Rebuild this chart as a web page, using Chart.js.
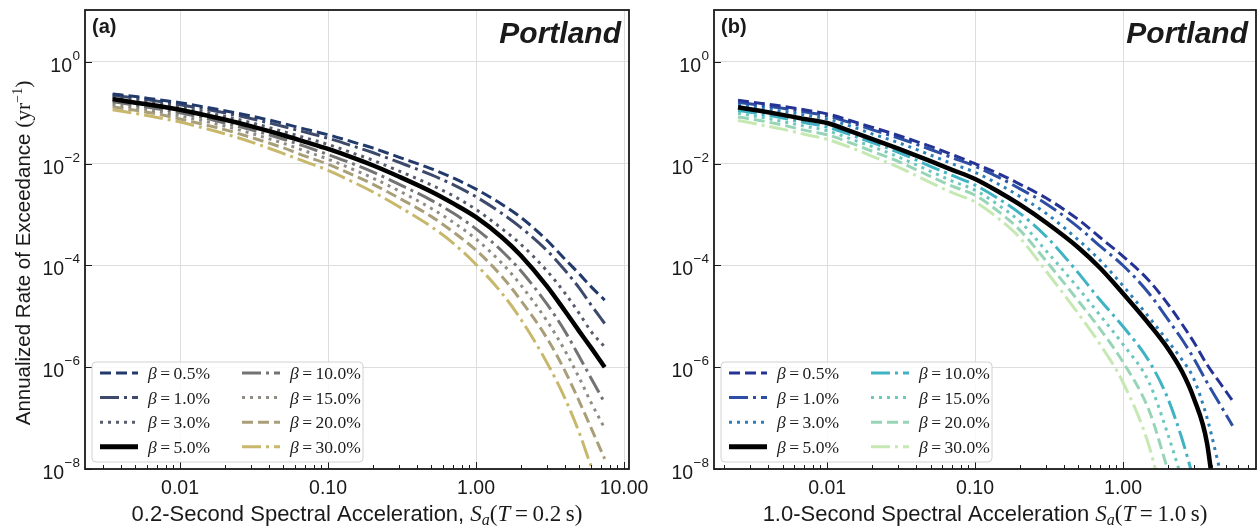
<!DOCTYPE html>
<html>
<head>
<meta charset="utf-8">
<script src="https://cdn.jsdelivr.net/npm/chart.js@4.4.1/dist/chart.umd.min.js"></script>
<style>
  body { margin: 0; background: #fff; }
  #wrap { position: relative; width: 1260px; height: 528px; overflow: hidden; }
  #chartA { position: absolute; left: 0; top: 0; }
  #chartB { position: absolute; left: 640px; top: 0; }
</style>
</head>
<body>
<div id="wrap">
  <canvas id="chartA" width="660" height="528"></canvas>
  <canvas id="chartB" width="620" height="528"></canvas>
</div>
<script>
// damping ratios
const betaLabels = ['0.5', '1.0', '3.0', '5.0', '10.0', '15.0', '20.0', '30.0'];

// panel (a): Sa(T=0.2 s) in g, rates given as log10(yr^-1)
const xA = [0.0035, 0.005, 0.007, 0.01, 0.015, 0.02, 0.03, 0.05, 0.07, 0.1, 0.15, 0.2, 0.3, 0.5, 0.7, 1.0, 1.5, 2.0, 3.0, 4.0, 5.0, 6.0, 7.4];
const logA05 = [-0.63, -0.68, -0.74, -0.80, -0.89, -0.96, -1.06, -1.21, -1.32, -1.43, -1.58, -1.69, -1.87, -2.10, -2.28, -2.50, -2.80, -3.05, -3.50, -3.88, -4.17, -4.42, -4.68];
const logA1 = [-0.66, -0.71, -0.77, -0.84, -0.93, -1.00, -1.11, -1.27, -1.38, -1.50, -1.66, -1.78, -1.97, -2.22, -2.41, -2.65, -2.98, -3.25, -3.70, -4.10, -4.45, -4.78, -5.14];
const logA3 = [-0.70, -0.76, -0.82, -0.89, -0.99, -1.07, -1.19, -1.37, -1.49, -1.62, -1.80, -1.93, -2.14, -2.42, -2.63, -2.90, -3.28, -3.58, -4.10, -4.55, -4.95, -5.30, -5.60];
const logA5 = [-0.73, -0.80, -0.86, -0.94, -1.05, -1.13, -1.26, -1.44, -1.57, -1.71, -1.89, -2.03, -2.25, -2.55, -2.78, -3.05, -3.45, -3.80, -4.40, -4.90, -5.30, -5.62, -6.00];
const logA10 = [-0.78, -0.85, -0.92, -1.00, -1.11, -1.20, -1.33, -1.52, -1.66, -1.82, -2.01, -2.16, -2.40, -2.72, -2.97, -3.28, -3.72, -4.10, -4.75, -5.30, -5.80, -6.22, -6.70];
const logA15 = [-0.83, -0.90, -0.97, -1.06, -1.17, -1.26, -1.40, -1.60, -1.75, -1.91, -2.12, -2.28, -2.53, -2.88, -3.15, -3.48, -3.96, -4.38, -5.08, -5.68, -6.22, -6.70, -7.20];
const logA20 = [-0.88, -0.95, -1.02, -1.12, -1.24, -1.33, -1.48, -1.69, -1.85, -2.01, -2.23, -2.40, -2.67, -3.04, -3.34, -3.70, -4.22, -4.68, -5.42, -6.08, -6.68, -7.20, -7.80];
const logA30 = [-0.94, -1.01, -1.09, -1.18, -1.31, -1.41, -1.57, -1.80, -1.96, -2.13, -2.37, -2.55, -2.84, -3.24, -3.56, -3.98, -4.55, -5.05, -5.90, -6.62, -7.30, -7.95, -8.60];

// panel (b): Sa(T=1.0 s) in g
const xB = [0.0025, 0.0035, 0.005, 0.007, 0.01, 0.015, 0.02, 0.03, 0.05, 0.07, 0.1, 0.15, 0.2, 0.3, 0.5, 0.7, 1.0, 1.5, 2.0, 2.5, 3.0, 3.7, 4.5, 5.5];
const logB05 = [-0.75, -0.81, -0.87, -0.94, -1.02, -1.17, -1.28, -1.44, -1.66, -1.82, -2.00, -2.22, -2.40, -2.67, -3.10, -3.45, -3.82, -4.30, -4.75, -5.15, -5.50, -5.95, -6.30, -6.66];
const logB1 = [-0.79, -0.85, -0.91, -0.98, -1.06, -1.21, -1.33, -1.49, -1.72, -1.88, -2.05, -2.29, -2.49, -2.78, -3.25, -3.62, -4.00, -4.55, -5.05, -5.45, -5.82, -6.30, -6.72, -7.15];
const logB3 = [-0.84, -0.90, -0.97, -1.04, -1.12, -1.28, -1.41, -1.58, -1.83, -2.00, -2.17, -2.43, -2.64, -2.97, -3.50, -3.90, -4.40, -5.02, -5.48, -5.85, -6.22, -7.00, -8.00, null];
const logB5 = [-0.89, -0.96, -1.04, -1.12, -1.20, -1.38, -1.51, -1.70, -1.95, -2.12, -2.30, -2.58, -2.80, -3.15, -3.65, -4.05, -4.55, -5.15, -5.62, -6.08, -6.60, -7.50, -9.50, null];
const logB10 = [-0.95, -1.02, -1.10, -1.19, -1.28, -1.45, -1.58, -1.77, -2.05, -2.23, -2.42, -2.72, -2.97, -3.42, -4.15, -4.68, -5.20, -5.88, -6.60, -7.40, -8.20, null, null, null];
const logB15 = [-1.01, -1.08, -1.17, -1.26, -1.35, -1.53, -1.66, -1.86, -2.15, -2.34, -2.52, -2.85, -3.13, -3.70, -4.45, -4.98, -5.55, -6.30, -7.30, -8.20, null, null, null, null];
const logB20 = [-1.08, -1.15, -1.24, -1.34, -1.43, -1.61, -1.75, -1.95, -2.25, -2.44, -2.62, -2.98, -3.30, -3.90, -4.70, -5.25, -5.90, -6.85, -8.00, null, null, null, null, null];
const logB30 = [-1.15, -1.23, -1.32, -1.42, -1.52, -1.70, -1.85, -2.06, -2.37, -2.57, -2.75, -3.12, -3.45, -4.10, -4.95, -5.55, -6.30, -7.55, -9.00, null, null, null, null, null];

// axis ticks
const yTicks = [1e-8, 1e-6, 1e-4, 1e-2, 1];
const xTicks = [0.01, 0.1, 1, 10];
const xTickLabels = ['0.01', '0.10', '1.00', '10.00'];

const colorsA = ['#213a6b', '#3e4a6b', '#565c6c', '#000000', '#737373', '#8f8c84', '#a89f79', '#c7b86c'];
const colorsB = ['#253494', '#2c4ea3', '#2c7fb8', '#000000', '#3fb3c3', '#6cc7bc', '#98d5b7', '#c6e8b2'];
const dashes = [[11, 5], [19, 5, 3, 5], [3, 5], [], [19, 5, 3, 5], [3, 5], [11, 5], [19, 5, 3, 5]];
const widths = [3, 3, 3, 4.5, 3, 3, 3, 3];

const ink = '#1a1a1a';
const sans = '"Liberation Sans", Arial, sans-serif';
const serif = '"Liberation Serif", "Times New Roman", serif';

function drawRuns(ctx, runs, x, y, align) {
    let w = 0;
    runs.forEach(r => { ctx.font = r.f; w += ctx.measureText(r.t).width; });
    let cx = align === 'center' ? x - w / 2 : (align === 'right' ? x - w : x);
    ctx.textAlign = 'left';
    runs.forEach(r => {
        ctx.font = r.f;
        ctx.fillText(r.t, cx, y + (r.dy || 0));
        cx += ctx.measureText(r.t).width;
    });
}

const decorPlugin = {
    id: 'decor',
    afterDatasetsDraw(chart, args, opts) {
        const ctx = chart.ctx;
        const a = chart.chartArea;
        const sx = chart.scales.x, sy = chart.scales.y;
        ctx.save();
        ctx.strokeStyle = ink;
        ctx.fillStyle = ink;
        ctx.textBaseline = 'alphabetic';

        // inward ticks
        ctx.lineWidth = 1;
        ctx.beginPath();
        for (let e = -3; e <= 1; e++) {
            for (let m = 2; m <= 9; m++) {
                const v = m * Math.pow(10, e);
                if (v < sx.min || v > sx.max) continue;
                const px = Math.round(sx.getPixelForValue(v)) + 0.5;
                ctx.moveTo(px, a.bottom);
                ctx.lineTo(px, a.bottom - 4);
            }
        }
        xTicks.forEach(v => {
            if (v < sx.min || v > sx.max) return;
            const px = Math.round(sx.getPixelForValue(v)) + 0.5;
            ctx.moveTo(px, a.bottom);
            ctx.lineTo(px, a.bottom - 7);
        });
        yTicks.forEach(v => {
            const py = Math.round(sy.getPixelForValue(v)) + 0.5;
            ctx.moveTo(a.left, py);
            ctx.lineTo(a.left + 7, py);
        });
        ctx.stroke();

        // frame
        ctx.lineWidth = 1.8;
        ctx.strokeRect(a.left, a.top, a.right - a.left, a.bottom - a.top);

        // legend, two columns
        const lx = a.left + 7, ly = a.bottom - 107, lw = 271, lh = 100;
        ctx.beginPath();
        if (ctx.roundRect) ctx.roundRect(lx, ly, lw, lh, 4); else ctx.rect(lx, ly, lw, lh);
        ctx.fillStyle = 'rgba(255,255,255,0.85)';
        ctx.fill();
        ctx.strokeStyle = '#d2d2d2';
        ctx.lineWidth = 1;
        ctx.stroke();
        chart.data.datasets.forEach((ds, i) => {
            const col = Math.floor(i / 4), row = i % 4;
            const hx = lx + 8 + col * 142;
            const cy = ly + 11 + row * 24.6;
            ctx.save();
            ctx.strokeStyle = ds.borderColor;
            ctx.lineWidth = i === 3 ? 5 : ds.borderWidth;
            ctx.setLineDash(ds.borderDash);
            ctx.beginPath();
            ctx.moveTo(hx, cy);
            ctx.lineTo(hx + 38, cy);
            ctx.stroke();
            ctx.restore();
            ctx.fillStyle = ink;
            drawRuns(ctx, [
                { t: '\u03b2', f: 'italic 17.5px ' + serif },
                { t: '\u2009=\u2009' + betaLabels[i] + '%', f: '17.5px ' + serif }
            ], hx + 48, cy + 6, 'left');
        });

        ctx.fillStyle = ink;
        // x tick labels
        ctx.font = '19.5px ' + sans;
        ctx.textAlign = 'center';
        xTicks.forEach((v, i) => {
            if (v < sx.min || v > sx.max) return;
            ctx.fillText(xTickLabels[i], sx.getPixelForValue(v), a.bottom + 25);
        });
        // y tick labels 10^n
        yTicks.forEach(v => {
            const py = sy.getPixelForValue(v);
            const e = Math.round(Math.log10(v));
            const es = e === 0 ? '0' : '\u2212' + Math.abs(e);
            ctx.textAlign = 'right';
            ctx.font = '13.5px ' + sans;
            const ew = ctx.measureText(es).width;
            ctx.fillText(es, a.left - 5, py - 2);
            ctx.font = '19.5px ' + sans;
            ctx.fillText('10', a.left - 5 - ew - 0.5, py + 10);
        });

        // x title
        drawRuns(ctx, [
            { t: opts.xTitle, f: '22px ' + sans },
            { t: 'S', f: 'italic 23px ' + serif },
            { t: 'a', f: 'italic 16px ' + serif, dy: 4 },
            { t: '(', f: '23px ' + serif },
            { t: 'T', f: 'italic 23px ' + serif },
            { t: '\u2009=\u2009' + opts.period + '\u2009s)', f: '23px ' + serif }
        ], (a.left + a.right) / 2, 521, 'center');

        // y title only on the left panel
        if (opts.yTitle) {
            ctx.save();
            ctx.translate(23, 253);
            ctx.rotate(-Math.PI / 2);
            drawRuns(ctx, [
                { t: 'Annualized Rate of Exceedance ', f: '20.5px ' + sans },
                { t: '(yr', f: '21.5px ' + serif },
                { t: '\u22121', f: '14px ' + serif, dy: -8 },
                { t: ')', f: '21.5px ' + serif }
            ], 0, 7, 'center');
            ctx.restore();
        }

        // panel tag and city
        ctx.textAlign = 'left';
        ctx.font = 'bold 20px ' + sans;
        ctx.fillText(opts.tag, a.left + 7, a.top + 23);
        ctx.textAlign = 'right';
        ctx.font = 'bold italic 30px ' + sans;
        ctx.fillText('Portland', a.right - 8, a.top + 33);
        ctx.restore();
    }
};

function createChart(canvas, xs, logs, colors, xMin, xMax, yAxisW, padRight, deco) {
    const datasets = logs.map((arr, i) => ({
        label: betaLabels[i],
        data: xs.map((x, j) => ({ x: x, y: arr[j] === null ? null : Math.pow(10, arr[j]) })),
        borderColor: colors[i],
        borderWidth: widths[i],
        borderDash: dashes[i],
        borderCapStyle: 'butt',
        pointRadius: 0,
        fill: false,
        cubicInterpolationMode: 'monotone',
        order: i === 3 ? -1 : i
    }));
    return new Chart(canvas, {
        type: 'line',
        data: { datasets: datasets },
        options: {
            responsive: false,
            animation: false,
            layout: { padding: { top: 10, right: padRight, left: 0, bottom: 0 } },
            plugins: { legend: { display: false }, tooltip: { enabled: false }, decor: deco },
            scales: {
                x: {
                    type: 'logarithmic', min: xMin, max: xMax,
                    afterBuildTicks: s => { s.ticks = xTicks.filter(v => v >= xMin && v <= xMax).map(v => ({ value: v })); },
                    afterFit: s => { s.height = 59; },
                    ticks: { display: false },
                    grid: { color: '#dddddd', lineWidth: 1, drawTicks: false },
                    border: { display: false }
                },
                y: {
                    type: 'logarithmic', min: 1e-8, max: 10.5,
                    afterBuildTicks: s => { s.ticks = yTicks.map(v => ({ value: v })); },
                    afterFit: s => { s.width = yAxisW; },
                    ticks: { display: false },
                    grid: { color: '#dddddd', lineWidth: 1, drawTicks: false },
                    border: { display: false }
                }
            }
        },
        plugins: [decorPlugin]
    });
}

createChart(document.getElementById('chartA'), xA,
    [logA05, logA1, logA3, logA5, logA10, logA15, logA20, logA30], colorsA,
    0.00228, 10.8, 85, 31,
    { tag: '(a)', xTitle: '0.2-Second Spectral Acceleration, ', period: '0.2', yTitle: true });

createChart(document.getElementById('chartB'), xB,
    [logB05, logB1, logB3, logB5, logB10, logB15, logB20, logB30], colorsB,
    0.00172, 7.92, 74, 4,
    { tag: '(b)', xTitle: '1.0-Second Spectral Acceleration ', period: '1.0', yTitle: false });
</script>
</body>
</html>
